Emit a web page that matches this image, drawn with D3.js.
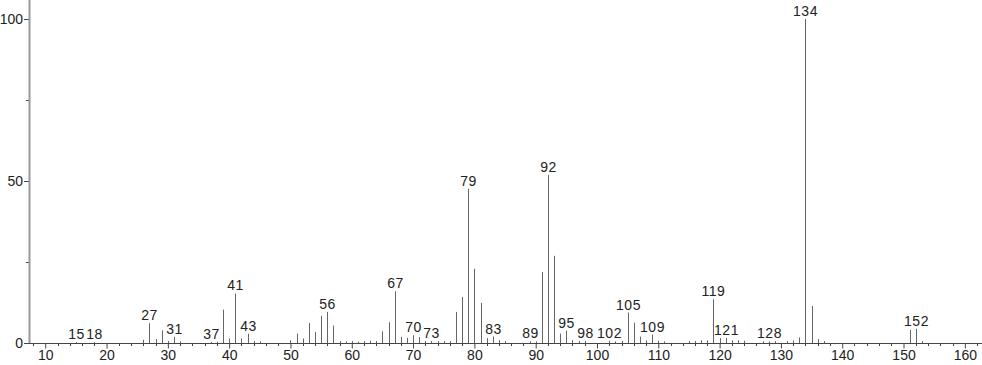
<!DOCTYPE html>
<html>
<head>
<meta charset="utf-8">
<script src="https://cdn.jsdelivr.net/npm/d3@7"></script>
<style>
  body { margin: 0; background: #fff; }
  svg { display: block; }
  .tick text { font-family: "Liberation Sans", Arial, sans-serif; font-size: 14px; fill: #222; }
  .peak-label { font-family: "Liberation Sans", Arial, sans-serif; font-size: 14px; fill: #222; letter-spacing: 0.5px; }
</style>
</head>
<body>
<script>
// Mass spectrum: m/z and relative intensity
const mz = [15, 18, 26, 27, 28, 29, 30, 31, 32, 37, 38, 39, 40, 41, 42, 43, 44, 45,
  50, 51, 52, 53, 54, 55, 56, 57, 58, 59, 60, 61, 62, 63, 64, 65, 66, 67, 68, 69,
  70, 71, 72, 73, 74, 75, 76, 77, 78, 79, 80, 81, 82, 83, 84, 85, 89, 90, 91, 92,
  93, 94, 95, 96, 97, 98, 102, 103, 104, 105, 106, 107, 108, 109, 110, 111, 115,
  116, 117, 118, 119, 120, 121, 122, 123, 124, 127, 128, 129, 131, 132, 133, 134,
  135, 136, 137, 151, 152, 153];
const intensity = [0.3, 0.3, 1.0, 6.1, 1.2, 3.9, 0.6, 1.9, 0.5, 0.3, 0.4, 10.3, 1.4, 15.3, 1.4, 2.9, 0.6, 0.5,
  0.8, 2.9, 1.4, 6.2, 3.4, 8.4, 9.6, 5.4, 0.6, 0.5, 0.6, 0.4, 0.6, 0.7, 0.6, 3.6, 6.4, 16.0, 1.9, 1.6,
  2.4, 1.8, 0.6, 0.6, 0.6, 0.6, 0.6, 9.6, 14.2, 47.6, 22.9, 12.4, 1.5, 2.0, 0.9, 0.6, 0.5, 0.5, 21.9, 51.9,
  26.9, 2.9, 3.8, 0.9, 0.6, 0.6, 0.7, 0.5, 0.7, 9.4, 6.3, 2.0, 0.8, 2.6, 0.7, 0.5, 0.6,
  0.6, 0.8, 0.8, 13.5, 1.5, 1.6, 0.8, 0.8, 0.7, 0.5, 0.5, 0.6, 0.6, 0.8, 1.7, 100,
  11.4, 1.2, 0.6, 4.0, 4.4, 0.6];
const labeled = [15, 18, 27, 31, 37, 41, 43, 56, 67, 70, 73, 79, 83, 89, 92, 95, 98,
  102, 105, 109, 119, 121, 128, 134, 152];
const yTicks = [0, 50, 100];

const w = 982, h = 365;
const x = d3.scaleLinear().domain([7.35, 162.8]).range([29, 982]);
const y = d3.scaleLinear().domain([0, 100]).range([343, 19]);

const svg = d3.select("body").append("svg")
  .attr("width", w)
  .attr("height", h);

const peaks = mz.map((m, i) => ({ m: m, v: intensity[i] }));

// peaks
svg.selectAll("line.peak")
  .data(peaks)
  .enter()
  .append("line")
  .attr("class", "peak")
  .attr("x1", d => Math.round(x(d.m)) + 0.5)
  .attr("x2", d => Math.round(x(d.m)) + 0.5)
  .attr("y1", y(0))
  .attr("y2", d => y(d.v))
  .attr("stroke", "#666")
  .attr("stroke-width", 1);

// peak labels
svg.selectAll("text.peak-label")
  .data(peaks.filter(d => labeled.includes(d.m)))
  .enter()
  .append("text")
  .attr("class", "peak-label")
  .attr("x", d => Math.round(x(d.m)) + 0.5)
  .attr("y", d => y(d.v) - 3)
  .attr("text-anchor", "middle")
  .text(d => d.m);

// x axis
const xAxis = d3.axisBottom(x)
  .tickValues(d3.range(10, 161, 10))
  .tickSize(5)
  .tickPadding(2)
  .tickFormat(d3.format("d"));

const gx = svg.append("g")
  .attr("transform", `translate(0, ${y(0) + 0.5})`)
  .call(xAxis);
gx.select(".domain").attr("stroke", "#444").attr("d", `M29,0H982`);
gx.selectAll(".tick line").attr("stroke", "#444");

// minor x ticks
svg.append("g")
  .selectAll("line")
  .data(d3.range(8, 163, 2).filter(v => v % 10 !== 0))
  .enter()
  .append("line")
  .attr("x1", d => Math.round(x(d)) + 0.5)
  .attr("x2", d => Math.round(x(d)) + 0.5)
  .attr("y1", y(0))
  .attr("y2", y(0) + 3)
  .attr("stroke", "#444");

// y axis
const yAxis = d3.axisLeft(y)
  .tickValues(yTicks)
  .tickSize(5)
  .tickPadding(1);

const gy = svg.append("g")
  .attr("transform", "translate(29, 0)")
  .call(yAxis);
gy.select(".domain").remove();
gy.selectAll(".tick line").attr("stroke", "#444");

svg.append("g")
  .selectAll("line")
  .data([25, 75])
  .enter()
  .append("line")
  .attr("x1", 26)
  .attr("x2", 29)
  .attr("y1", d => Math.round(y(d)) + 0.5)
  .attr("y2", d => Math.round(y(d)) + 0.5)
  .attr("stroke", "#444");

svg.append("line")
  .attr("x1", 29.5).attr("x2", 29.5)
  .attr("y1", 0).attr("y2", y(0))
  .attr("stroke", "#999")
  .attr("stroke-width", 2);
</script>
</body>
</html>
